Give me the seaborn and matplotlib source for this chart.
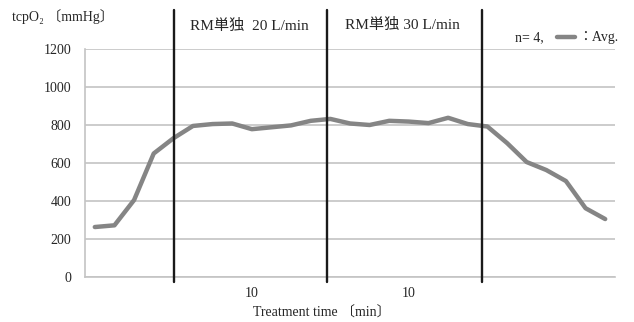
import matplotlib
matplotlib.use("Agg")
import matplotlib.pyplot as plt
import seaborn as sns
import pandas as pd
from matplotlib.lines import Line2D

# average tcpO2 per time point
tcpo2 = [263, 272, 405, 650, 730, 795, 805, 808, 778, 788, 798, 822, 832, 808,
         800, 822, 818, 810, 838, 805, 792, 705, 605, 563, 505, 362, 305]
phase_lines = [4.05, 11.85, 19.7]   # where the phase boundaries were drawn
tick_pos = [8, 16]
tick_labels = ["10", "10"]
y_ticks = [0, 200, 400, 600, 800, 1000, 1200]

df = pd.DataFrame({"t": range(len(tcpo2)), "tcpo2": tcpo2})

sns.set_style("white")
plt.rcParams["font.family"] = ["Liberation Serif", "Noto Sans CJK JP", "DejaVu Sans"]

W, H = 634, 322
fig = plt.figure(figsize=(W / 100, H / 100), dpi=100)
ax = fig.add_axes([85 / W, 1 - 277 / H, 530 / W, 228 / H])

sns.lineplot(data=df, x="t", y="tcpo2", ax=ax, color="#858585", linewidth=3.2)

for p in phase_lines:
    ax.axvline(p, ymin=-0.02, ymax=1.17, color="#1a1a1a", lw=1.7, clip_on=False, zorder=3)

ax.set_xlim(-0.5, len(tcpo2) - 0.5)
ax.set_ylim(0, 1200)
ax.set_yticks(y_ticks)
ax.set_xticks(tick_pos)
ax.set_xticklabels(tick_labels, fontsize=10)
ax.tick_params(axis="x", length=0, pad=7)
ax.tick_params(axis="y", length=4, color="#b8b8b8", width=1, labelsize=10, pad=6)
ax.yaxis.grid(True, color="#c4c4c4", lw=1.2)
ax.set_xlabel("")
ax.set_ylabel("")
for s in ["top", "right"]:
    ax.spines[s].set_visible(False)
ax.spines["left"].set_color("#c4c4c4")
ax.spines["bottom"].set_color("#c4c4c4")
ax.spines["left"].set_linewidth(1.2)
ax.spines["bottom"].set_linewidth(1.2)

def px(x, y):
    return x / W, 1 - y / H

fig.text(*px(12, 17), "tcpO₂ 〔mmHg〕", fontsize=10, va="center", ha="left")
fig.text(*px(190, 26), "RM単独  20 L/min", fontsize=11, va="center", ha="left")
fig.text(*px(345, 25), "RM単独 30 L/min", fontsize=11, va="center", ha="left")
fig.text(*px(515, 38), "n= 4,", fontsize=10, va="center", ha="left")
fig.add_artist(Line2D([557 / W, 575 / W], [1 - 37 / H] * 2, color="#858585", lw=3.2))
fig.text(*px(578, 38), "：Avg.", fontsize=10, va="center", ha="left")
fig.text(*px(322, 313), "Treatment time 〔min〕", fontsize=10, va="center", ha="center")

fig.savefig("out.png", dpi=100)
